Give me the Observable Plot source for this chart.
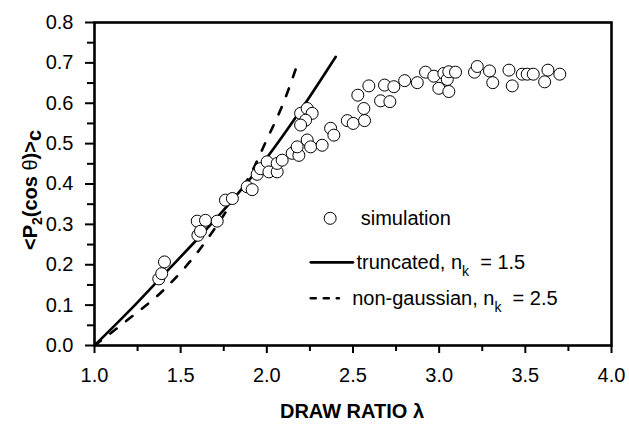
<!DOCTYPE html>
<html><head><meta charset="utf-8">
<script src="https://cdn.jsdelivr.net/npm/d3@7"></script>
<script src="https://cdn.jsdelivr.net/npm/@observablehq/plot@0.6"></script>
<style>body{margin:0;background:#fff} svg{display:block}</style>
</head><body><div id="chart"></div>
<script>
// simulation points
const simX = [1.373,1.39,1.406,1.596,1.644,1.712,1.600,1.615,1.76,1.80,1.886,1.915,1.944,1.963,2.002,2.012,2.06,2.06,2.089,2.147,2.186,2.176,2.234,2.254,2.321,2.37,2.389,2.196,2.234,2.263,2.225,2.196,2.467,2.501,2.567,2.563,2.528,2.592,2.66,2.714,2.683,2.737,2.80,2.873,2.921,2.969,3.027,3.047,2.998,3.056,3.056,3.095,3.205,3.221,3.292,3.311,3.405,3.424,3.482,3.511,3.546,3.631,3.612,3.70];
const simY = [0.165,0.178,0.207,0.308,0.310,0.308,0.273,0.283,0.360,0.364,0.393,0.386,0.424,0.438,0.455,0.430,0.430,0.451,0.459,0.476,0.471,0.492,0.509,0.492,0.496,0.538,0.521,0.575,0.587,0.575,0.558,0.546,0.557,0.550,0.557,0.587,0.620,0.643,0.606,0.604,0.645,0.641,0.656,0.651,0.677,0.667,0.674,0.659,0.637,0.629,0.678,0.677,0.677,0.691,0.680,0.651,0.682,0.643,0.672,0.672,0.672,0.682,0.653,0.672];
// truncated model, n_k = 1.5
const truncX = [1.0,1.2,1.4,1.6,1.8,2.0,2.2,2.4];
const truncY = [0.0,0.085,0.175,0.265,0.360,0.465,0.585,0.715];
// non-gaussian model, n_k = 2.5
const ngX = [1.0,1.2,1.4,1.6,1.8,1.9,2.0,2.1,2.18];
const ngY = [0.0,0.066,0.137,0.232,0.355,0.420,0.510,0.605,0.700];
// ticks
const xTicks = [1.0,1.5,2.0,2.5,3.0,3.5,4.0];
const xMinor = [1.25,1.75,2.25,2.75,3.25,3.75];
const yTicks = [0.0,0.1,0.2,0.3,0.4,0.5,0.6,0.7,0.8];
const yMinor = [0.05,0.15,0.25,0.35,0.45,0.55,0.65,0.75];
const legendLabels = ["simulation","truncated, n_k = 1.5","non-gaussian, n_k = 2.5"];
const xTitle = "DRAW RATIO λ";

const sim = simX.map((x,i)=>({x, y: simY[i]}));
const trunc = truncX.map((x,i)=>({x, y: truncY[i]}));
const ng = ngX.map((x,i)=>({x, y: ngY[i]}));

// legend layout (data units)
const lgRows = [0.315, 0.206, 0.117];
const lgSym0 = 2.255, lgSym1 = 2.50, lgDash1 = 2.418;
const lgTextX = [2.545, 2.52, 2.495];
const lgText = legendLabels.map((t,i)=>({t, x: lgTextX[i], y: lgRows[i]}));

const FONT = "'Liberation Sans', Arial, Helvetica, sans-serif";

const plot = Plot.plot({
  width: 629, height: 427,
  marginLeft: 94, marginRight: 18, marginTop: 22, marginBottom: 82,
  x: {domain: [1, 4]},
  y: {domain: [0, 0.8]},
  style: {fontFamily: FONT, fontSize: "20px", background: "white", color: "black"},
  marks: [
    Plot.axisX(xTicks, {tickSize: 8, tickPadding: 14, tickFormat: d3.format(".1f"), strokeWidth: 2, fontSize: 20, label: null}),
    Plot.axisX(xMinor, {tickSize: 6, tickFormat: () => "", strokeWidth: 2, label: null}),
    Plot.axisY(yTicks, {tickSize: 9, tickPadding: 12, tickFormat: d3.format(".1f"), strokeWidth: 2, fontSize: 20, label: null}),
    Plot.axisY(yMinor, {tickSize: 7, tickFormat: () => "", strokeWidth: 2, label: null}),
    Plot.line(ng, {x: "x", y: "y", stroke: "black", strokeWidth: 2.6, strokeDasharray: "8,12", curve: "monotone-x"}),
    Plot.line(trunc, {x: "x", y: "y", stroke: "black", strokeWidth: 2.6, curve: "monotone-x"}),
    Plot.dot(sim, {x: "x", y: "y", r: 6, stroke: "black", fill: "white", strokeWidth: 1}),
    // legend
    Plot.dot([lgText[0]], {x: (lgSym0 + lgSym1) / 2 - 0.01, y: "y", r: 6, stroke: "black", fill: "white", strokeWidth: 1}),
    Plot.line([{x: lgSym0, y: lgRows[1]}, {x: lgSym1, y: lgRows[1]}], {x: "x", y: "y", stroke: "black", strokeWidth: 2.6}),
    Plot.line([{x: lgSym0, y: lgRows[2]}, {x: lgDash1, y: lgRows[2]}], {x: "x", y: "y", stroke: "black", strokeWidth: 2.6, strokeDasharray: "5,8"}),
    Plot.text(lgText, {x: "x", y: "y", text: "t", textAnchor: "start", fontSize: 20, fill: "black", className: "lgtext"}),
    Plot.frame({stroke: "black", strokeWidth: 2.6})
  ]
});

document.getElementById("chart").appendChild(plot);
const svg = d3.select(plot);

// subscripts in legend
svg.selectAll(".lgtext text").each(function() {
  const s = this.textContent;
  const m = s.split("_");
  if (m.length < 2) return;
  const el = d3.select(this);
  el.text(null);
  el.append("tspan").text(m[0]);
  el.append("tspan").attr("dy", 7).attr("font-size", 14).text(m[1][0]);
  el.append("tspan").attr("dy", -7).text("\u00a0\u00a0" + m[1].slice(1).trim());
});

// axis titles
svg.append("text")
  .attr("x", 352).attr("y", 418)
  .attr("text-anchor", "middle")
  .attr("font-family", FONT).attr("font-size", 20).attr("font-weight", "bold")
  .text(xTitle);

const yt = svg.append("text")
  .attr("transform", "translate(37,190) rotate(-90)")
  .attr("text-anchor", "middle")
  .attr("font-family", FONT).attr("font-size", 20).attr("font-weight", "bold");
yt.append("tspan").text("<P");
yt.append("tspan").attr("dy", 5).attr("font-size", 14).text("2");
yt.append("tspan").attr("dy", -5).text("(cos ");
yt.append("tspan").attr("font-weight", "normal").text("θ");
yt.append("tspan").text(")>");
yt.append("tspan").attr("dy", 4).text("c");
</script>
</body></html>
